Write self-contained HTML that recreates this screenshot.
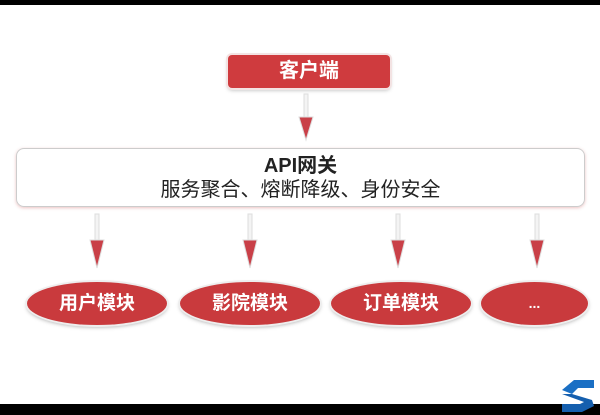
<!DOCTYPE html>
<html><head><meta charset="utf-8"><style>
html,body{margin:0;padding:0;}
body{width:600px;height:415px;position:relative;overflow:hidden;background:#fff;font-family:"Liberation Sans","Noto Sans CJK SC",sans-serif;}
.abs{position:absolute;}
.client{left:228px;top:55px;width:162px;height:33px;background:#cf3b3e;border-radius:4px;box-shadow:0 0 0 2px #f3e3e3,0 2px 4px rgba(0,0,0,.3);color:#fff;font-weight:bold;font-size:20px;line-height:33px;text-align:center;}
.api{left:16px;top:148px;width:567px;height:57px;border:1.5px solid #ccc;border-radius:8px;box-shadow:0 1px 3px rgba(200,80,80,.35);text-align:center;color:#222;}
.ell{top:282px;height:43px;background:#c93a3d;border-radius:50%;box-shadow:0 0 0 2px #eee,0 2px 4px rgba(0,0,0,.35);color:#fff;font-weight:bold;font-size:19px;line-height:43px;text-align:center;}
</style></head><body>
<div class="abs" style="left:0;top:0;width:600px;height:5px;background:#000"></div>
<div class="abs" style="left:0;top:404px;width:600px;height:11px;background:#000"></div>
<div class="abs client">客户端</div>
<div class="abs api"><div style="font-weight:bold;font-size:20px;margin-top:5px;line-height:24px">API网关</div><div style="font-size:20px;line-height:24px">服务聚合、熔断降级、身份安全</div></div>
<svg class="abs" style="left:0;top:0" width="600" height="415">
<g fill="#c94048" stroke="#ddd" stroke-width="1">
<rect x="304" y="94" width="4" height="25" fill="#f4f4f4"/>
<polygon points="299,117 313,117 306,140"/>
<g id="a"><rect x="95" y="214" width="4" height="28" fill="#f4f4f4"/><polygon points="90,240 104,240 97,268"/></g>
<use href="#a" x="153"/><use href="#a" x="301"/><use href="#a" x="440"/>
</g>
<g transform="translate(558,376)">
<polygon points="4,14 16,4 36,4 36,12 20,12 14,18" fill="#1a6fc4"/>
<polygon points="4,18 14,18 34,24 36,30 24,36 4,36 4,28 22,28 26,26" fill="#155fae"/>
</g>
</svg>
<div class="abs ell" style="left:27px;width:140px">用户模块</div>
<div class="abs ell" style="left:180px;width:140px">影院模块</div>
<div class="abs ell" style="left:331px;width:140px">订单模块</div>
<div class="abs ell" style="left:481px;width:107px;font-size:14px">...</div>
</body></html>
